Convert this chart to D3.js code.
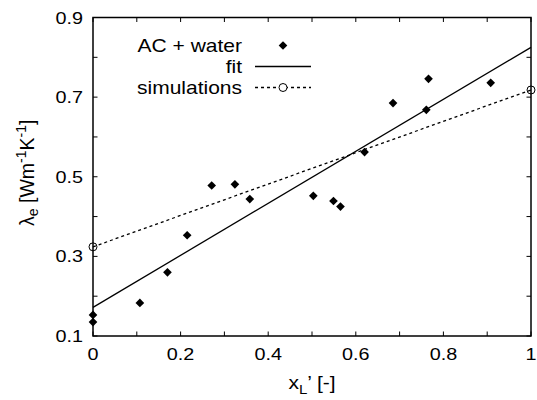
<!DOCTYPE html>
<html><head><meta charset="utf-8">
<script src="https://cdn.jsdelivr.net/npm/d3@7"></script>
<style>body{margin:0;background:#fff}text{font-family:"Liberation Sans",Arial,sans-serif;fill:#000}</style>
</head><body><svg id="c" width="537" height="400"></svg>
<script>
const measX = [0, 0, 0.107, 0.17, 0.215, 0.271, 0.324, 0.358, 0.503, 0.549, 0.565, 0.62, 0.685, 0.761, 0.766, 0.908];
const measY = [0.153, 0.135, 0.183, 0.26, 0.353, 0.478, 0.481, 0.444, 0.452, 0.439, 0.425, 0.562, 0.685, 0.668, 0.746, 0.736];
const fitX = [0, 1];
const fitY = [0.172, 0.825];
const simX = [0, 1];
const simY = [0.324, 0.718];
const xTicks = [0, 0.2, 0.4, 0.6, 0.8, 1];
const yTicks = [0.1, 0.3, 0.5, 0.7, 0.9];
const xMinor = d3.range(0, 1.0001, 0.1);
const yMinor = d3.range(0.1, 0.9001, 0.1);
const legendLabels = ["AC + water", "fit", "simulations"];

const SX = 1.2, FS = 17;
const svg = d3.select("#c");
const L = 93, R = 531, T = 17.5, B = 336;
const x = d3.scaleLinear().domain([0, 1]).range([L, R]);
const y = d3.scaleLinear().domain([0.1, 0.9]).range([B, T]);

function txt(g, px, py, s, anchor, size) {
  const t = g.append("g").attr("transform", `translate(${px},${py}) scale(${SX},1)`)
    .append("text").attr("text-anchor", anchor).attr("font-size", size || FS);
  t.text(s);
  return t;
}

// ticks (inward, mirrored)
const tl = 4.5;
const tg = svg.append("g").attr("stroke", "#000").attr("stroke-width", 1);
xMinor.forEach(v => {
  tg.append("line").attr("x1", x(v)).attr("x2", x(v)).attr("y1", B).attr("y2", B - tl);
  tg.append("line").attr("x1", x(v)).attr("x2", x(v)).attr("y1", T).attr("y2", T + tl);
});
yMinor.forEach(v => {
  tg.append("line").attr("y1", y(v)).attr("y2", y(v)).attr("x1", L).attr("x2", L + tl);
  tg.append("line").attr("y1", y(v)).attr("y2", y(v)).attr("x1", R).attr("x2", R - tl);
});
svg.append("rect").attr("x", L).attr("y", T).attr("width", R - L).attr("height", B - T)
  .attr("fill", "none").attr("stroke", "#000").attr("stroke-width", 1.5);

xTicks.forEach(v => txt(svg, x(v), 360, d3.format("")(v), "middle", 16.5));
yTicks.forEach(v => txt(svg, 83, y(v) + 6, v.toFixed(1), "end", 16.5));

// x label
const xl = txt(svg, 312, 389, "", "middle", 17.5);
xl.append("tspan").text("x");
xl.append("tspan").attr("font-size", 12.5).attr("dy", 5).text("L");
xl.append("tspan").attr("dy", -5).text("’ [-]");

// y label
const yg = svg.append("g").attr("transform", `translate(34,${(T + B) / 2 - 4}) rotate(-90)`);
const yl = yg.append("text").attr("text-anchor", "middle").attr("font-size", 19.5);
yl.append("tspan").text("λ");
yl.append("tspan").attr("font-size", 14).attr("dy", 4).text("e");
yl.append("tspan").attr("dy", -4).text(" [Wm");
yl.append("tspan").attr("font-size", 14).attr("dy", -8).text("-1");
yl.append("tspan").attr("dy", 8).text("K");
yl.append("tspan").attr("font-size", 14).attr("dy", -8).text("-1");
yl.append("tspan").attr("dy", 8).text("]");

const line = d3.line().x(d => x(d[0])).y(d => y(d[1]));
svg.append("path").datum(d3.zip(fitX, fitY)).attr("d", line)
  .attr("fill", "none").attr("stroke", "#000").attr("stroke-width", 1.3);
svg.append("path").datum(d3.zip(simX, simY)).attr("d", line)
  .attr("fill", "none").attr("stroke", "#000").attr("stroke-width", 1.3).attr("stroke-dasharray", "3,3");

const diamond = d3.symbol().type(d3.symbolDiamond2).size(48);
svg.append("g").selectAll("path").data(d3.zip(measX, measY)).join("path")
  .attr("d", diamond).attr("transform", d => `translate(${x(d[0])},${y(d[1])})`).attr("fill", "#000");
svg.append("g").selectAll("circle").data(d3.zip(simX, simY)).join("circle")
  .attr("cx", d => x(d[0])).attr("cy", d => y(d[1])).attr("r", 4)
  .attr("fill", "none").attr("stroke", "#000").attr("stroke-width", 1);

// legend
const ly = [45.5, 66.5, 87.5];
legendLabels.forEach((s, i) => txt(svg, 242, ly[i] + 6.2, s, "end", 17.5));
svg.append("path").attr("d", diamond).attr("transform", `translate(283,${ly[0]})`).attr("fill", "#000");
svg.append("line").attr("x1", 255).attr("x2", 311).attr("y1", ly[1]).attr("y2", ly[1]).attr("stroke", "#000").attr("stroke-width", 1.3);
svg.append("line").attr("x1", 255).attr("x2", 311).attr("y1", ly[2]).attr("y2", ly[2]).attr("stroke", "#000").attr("stroke-width", 1.3).attr("stroke-dasharray", "3,3");
svg.append("circle").attr("cx", 283).attr("cy", ly[2]).attr("r", 4).attr("fill", "#fff").attr("stroke", "#000");
</script></body></html>
